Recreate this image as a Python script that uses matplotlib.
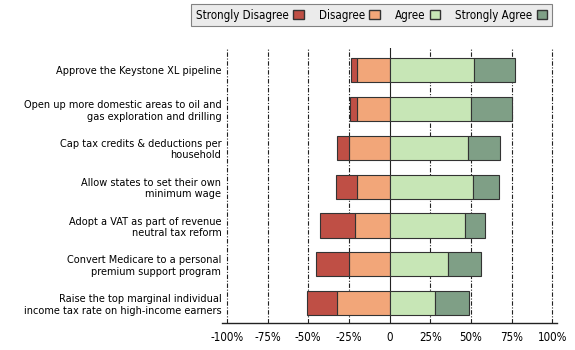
"""
정책 찬반 설문 - 발산형 누적 막대 차트
"""
import numpy as np
import matplotlib
matplotlib.use('Agg')
import matplotlib.pyplot as plt
from matplotlib.patches import Patch

plt.rcParams['font.family'] = ['DejaVu Sans']
plt.rcParams['font.stretch'] = 'condensed'

# 데이터 (위에서 아래 순서)
policies = [
    'Approve the Keystone XL pipeline',
    'Open up more domestic areas to oil and\ngas exploration and drilling',
    'Cap tax credits & deductions per\nhousehold',
    'Allow states to set their own\nminimum wage',
    'Adopt a VAT as part of revenue\nneutral tax reform',
    'Convert Medicare to a personal\npremium support program',
    'Raise the top marginal individual\nincome tax rate on high-income earners',
]
strongly_disagree = [4, 4.5, 7, 13, 21.5, 20, 19]
disagree = [20, 20, 25, 20, 21, 25, 32]
agree = [52, 50, 48, 51.5, 46.5, 36, 28]
strongly_agree = [25, 25.5, 20, 16, 12, 20, 21]

tick_vals = [-100, -75, -50, -25, 0, 25, 50, 75, 100]
tick_labels = ['-100%', '-75%', '-50%', '-25%', '0', '25%', '50%', '75%', '100%']

c_sd = '#bf4f45'
c_d = '#f2a679'
c_a = '#c7e6b6'
c_sa = '#7f9f86'
edge = '#333333'

fig = plt.figure(figsize=(5.75, 3.5), dpi=100)
ax = fig.add_axes([0.386, 0.077, 0.583, 0.786])

y = np.arange(len(policies))
h = 0.62
sd = np.array(strongly_disagree)
d = np.array(disagree)
a = np.array(agree)
sa = np.array(strongly_agree)

# 세로 격자선
for v in tick_vals:
    if v == 0:
        ax.axvline(v, color='#222222', lw=0.8, zorder=1)
    else:
        ax.axvline(v, color='#222222', lw=0.8, ls=(0, (4, 1.5, 1, 1.5)), zorder=1)

kw = dict(height=h, edgecolor=edge, linewidth=0.8, zorder=3)
ax.barh(y, -d, left=0, color=c_d, **kw)
ax.barh(y, -sd, left=-d, color=c_sd, **kw)
ax.barh(y, a, left=0, color=c_a, **kw)
ax.barh(y, sa, left=a, color=c_sa, **kw)

ax.set_xlim(-103, 103)
ax.set_ylim(len(policies) - 0.49, -0.57)
ax.set_xticks(tick_vals)
ax.set_xticklabels(tick_labels, fontsize=8.3)
ax.set_yticks(y)
ax.set_yticklabels(policies, fontsize=7.8, linespacing=1.2)
ax.tick_params(axis='y', length=0, pad=0.5)
ax.tick_params(axis='x', length=0, pad=6)

for s in ['top', 'right', 'left']:
    ax.spines[s].set_visible(False)
ax.spines['bottom'].set_color('#222222')
ax.spines['bottom'].set_linewidth(1.0)

# 범례
handles = [
    Patch(facecolor=c_sd, edgecolor=edge, label='Strongly Disagree'),
    Patch(facecolor=c_d, edgecolor=edge, label='Disagree'),
    Patch(facecolor=c_a, edgecolor=edge, label='Agree'),
    Patch(facecolor=c_sa, edgecolor=edge, label='Strongly Agree'),
]
leg = fig.legend(handles=handles, loc='upper right', bbox_to_anchor=(552 / 575, 1 - 4 / 350),
                 ncol=4, markerfirst=False, fontsize=8.3, frameon=True,
                 fancybox=False, handlelength=0.9, handleheight=0.9,
                 handletextpad=0.4, columnspacing=1.3, borderpad=0.4,
                 borderaxespad=0.0)
leg.get_frame().set_facecolor('#e6e6e6')
leg.get_frame().set_edgecolor('#666666')
leg.get_frame().set_linewidth(0.8)

fig.savefig('out.png', dpi=100)
plt.close(fig)
